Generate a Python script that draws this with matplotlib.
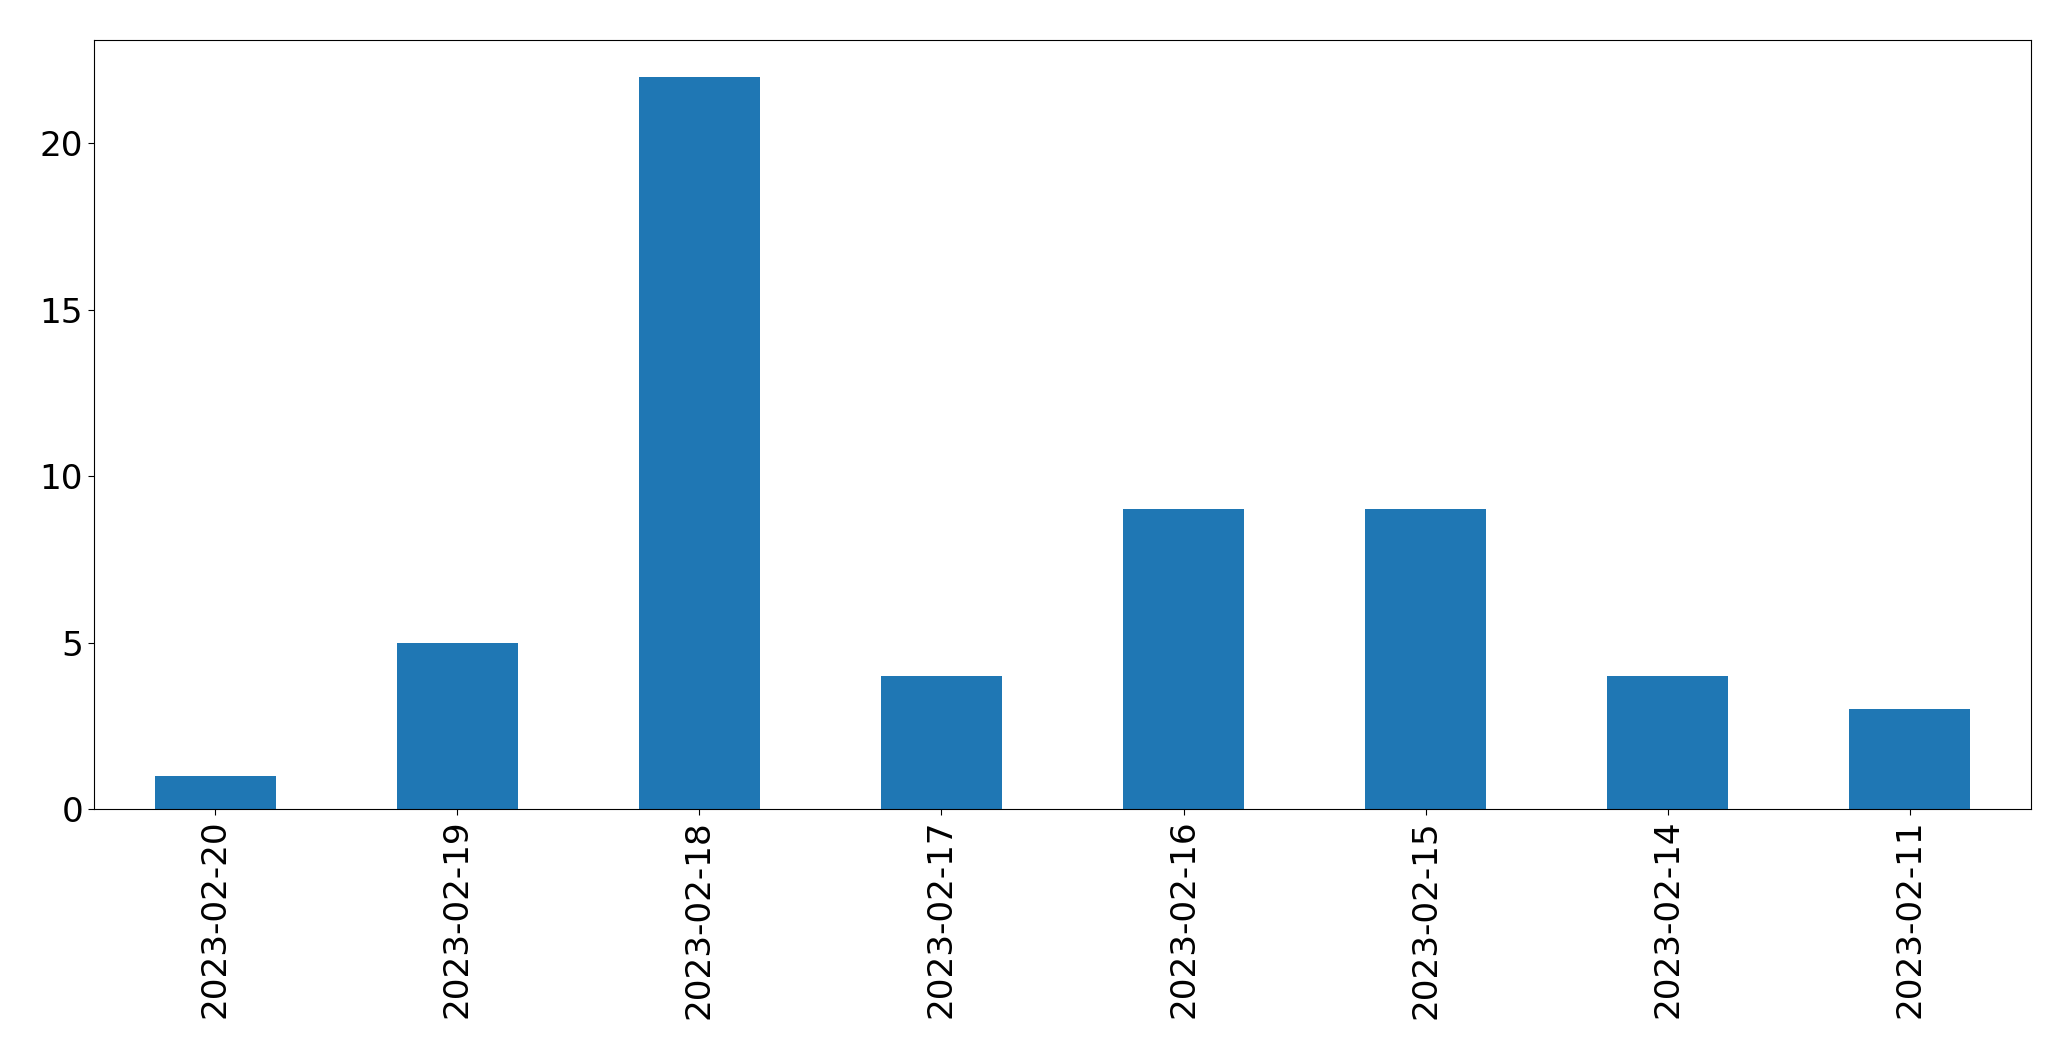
import matplotlib
matplotlib.use("Agg")
import matplotlib.pyplot as plt
import pandas as pd

dates = ["2023-02-20", "2023-02-19", "2023-02-18", "2023-02-17",
         "2023-02-16", "2023-02-15", "2023-02-14", "2023-02-11"]
counts = [1, 5, 22, 4, 9, 9, 4, 3]

s = pd.Series(counts, index=dates)

fig, ax = plt.subplots(figsize=(20.71, 10.61), dpi=100)
s.plot.bar(ax=ax, color="#1f77b4")
ax.tick_params(axis="both", labelsize=24.7, length=4.3)
ax.set_xlabel("")
fig.subplots_adjust(left=94 / 2071, right=2031 / 2071, top=1 - 40 / 1061, bottom=1 - 809 / 1061)
fig.savefig("out.png", dpi=100)
